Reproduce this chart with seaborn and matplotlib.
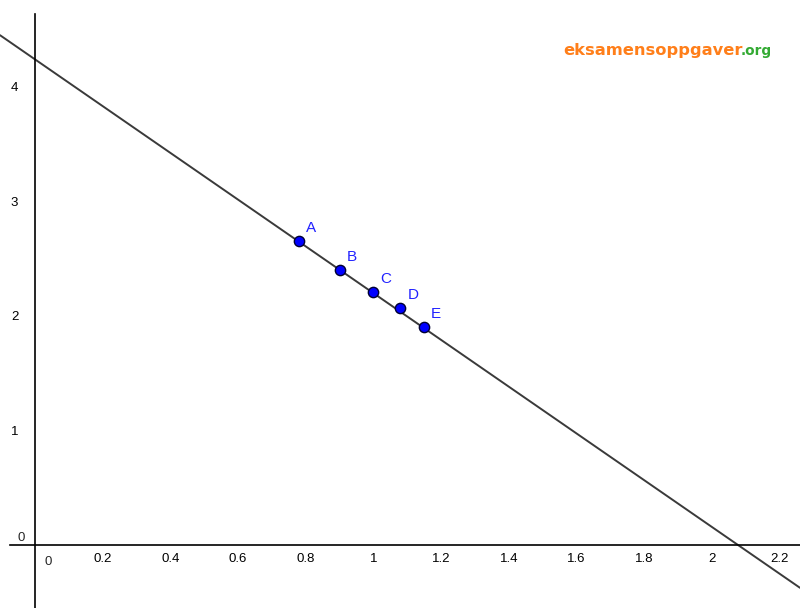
import numpy as np
import pandas as pd
import matplotlib.pyplot as plt
import seaborn as sns

# points
labels = ['A', 'B', 'C', 'D', 'E']
x_vals = [0.78, 0.90, 1.00, 1.08, 1.15]
y_vals = [2.65, 2.40, 2.21, 2.07, 1.90]

# line drawn through the points
slope = -2.04
intercept = 4.238

x_ticks = [0.2, 0.4, 0.6, 0.8, 1.0, 1.2, 1.4, 1.6, 1.8, 2.0, 2.2]
x_tick_labels = ['0.2', '0.4', '0.6', '0.8', '1', '1.2', '1.4', '1.6', '1.8', '2', '2.2']
y_ticks = [1, 2, 3, 4]
y_tick_labels = ['1', '2', '3', '4']

sns.set_style('white')
plt.rcParams['font.family'] = ['Liberation Sans', 'DejaVu Sans']

df = pd.DataFrame({'x': x_vals, 'y': y_vals, 'label': labels})

fig = plt.figure(figsize=(8, 6.08), dpi=100)
ax = fig.add_axes([0, 0, 1, 1])
xmin, xmax = -0.1034, 2.2606
ymin, ymax = -0.5497, 4.756
ax.set_xlim(xmin, xmax)
ax.set_ylim(ymin, ymax)

# line
line_x = np.array([xmin, xmax])
line_df = pd.DataFrame({'x': line_x, 'y': intercept + slope * line_x})
sns.lineplot(data=line_df, x='x', y='y', ax=ax, color='#3a3a3a', linewidth=1.4)

# points
sns.scatterplot(data=df, x='x', y='y', ax=ax, color='#0000ff', edgecolor='#000033',
                linewidth=1.0, s=55, zorder=5)
for _, r in df.iterrows():
    ax.annotate(r['label'], (r['x'], r['y']), xytext=(7, 9), textcoords='offset pixels',
                color='#2222ff', fontsize=11)

# axes through the origin
for side in ['top', 'right']:
    ax.spines[side].set_visible(False)
ax.spines['left'].set_position(('data', 0))
ax.spines['bottom'].set_position(('data', 0))
ax.spines['left'].set_bounds(ymin, 4.634)
ax.spines['bottom'].set_bounds(-0.074, xmax)
ax.spines['left'].set_color('black')
ax.spines['bottom'].set_color('black')
ax.spines['left'].set_linewidth(1.2)
ax.spines['bottom'].set_linewidth(1.2)

ax.set_xticks(x_ticks)
ax.set_xticklabels(x_tick_labels)
ax.set_yticks(y_ticks)
ax.set_yticklabels(y_tick_labels)
ax.tick_params(axis='x', direction='in', length=5, width=1, pad=6, labelsize=9.5, colors='black')
ax.tick_params(axis='y', direction='out', length=4, width=1, pad=8, labelsize=9.5, colors='black')
ax.set_xlabel('')
ax.set_ylabel('')

# origin labels
ax.text(0.04, -0.15, '0', fontsize=9.5, ha='center', va='center')
ax.text(-0.04, 0.06, '0', fontsize=9.5, ha='center', va='center')

# watermark
ax.text(563, 553, 'eksamensoppgaver', transform=None, color='#ff7f1a', fontsize=11.7,
        fontweight='bold', family=['DejaVu Sans'], va='baseline', ha='left')
ax.text(741, 553, '.org', transform=None, color='#33aa33', fontsize=9.8,
        fontweight='bold', family=['DejaVu Sans'], va='baseline', ha='left')

fig.savefig('out.png', dpi=100)
